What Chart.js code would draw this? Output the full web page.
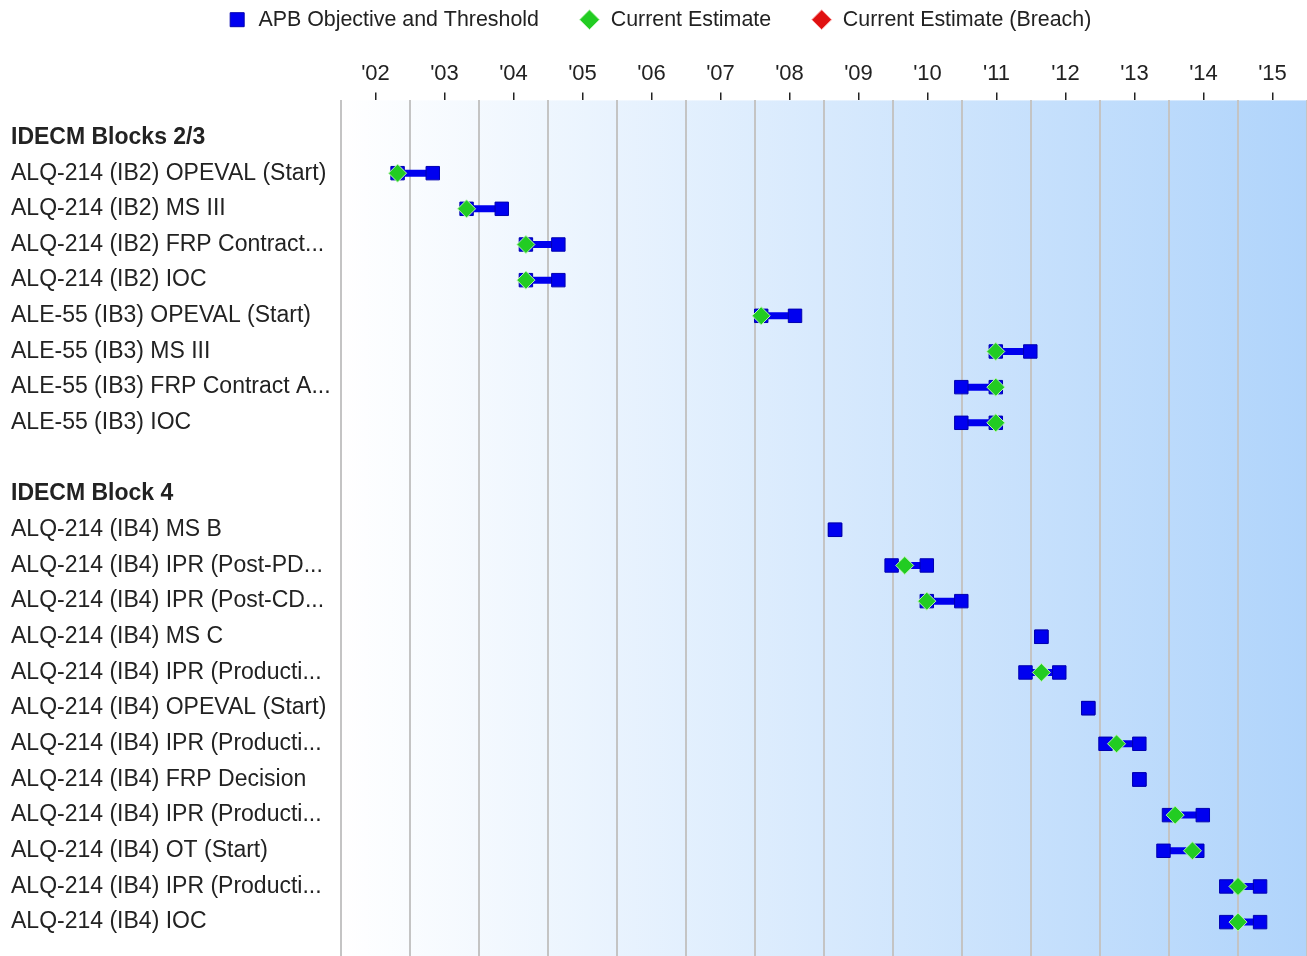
<!DOCTYPE html>
<html>
<head>
<meta charset="utf-8">
<script src="https://cdn.jsdelivr.net/npm/chart.js@4/dist/chart.umd.min.js"></script>
<style>
  html, body { margin: 0; padding: 0; background: #ffffff; }
  #wrap { position: relative; width: 1307px; height: 956px; }
</style>
</head>
<body>
<div id="wrap"><canvas id="c"></canvas></div>
<script>
// ---------- DATA ----------
const categories = [
  "IDECM Blocks 2/3",
  "ALQ-214 (IB2) OPEVAL (Start)",
  "ALQ-214 (IB2) MS III",
  "ALQ-214 (IB2) FRP Contract...",
  "ALQ-214 (IB2) IOC",
  "ALE-55 (IB3) OPEVAL (Start)",
  "ALE-55 (IB3) MS III",
  "ALE-55 (IB3) FRP Contract A...",
  "ALE-55 (IB3) IOC",
  "",
  "IDECM Block 4",
  "ALQ-214 (IB4) MS B",
  "ALQ-214 (IB4) IPR (Post-PD...",
  "ALQ-214 (IB4) IPR (Post-CD...",
  "ALQ-214 (IB4) MS C",
  "ALQ-214 (IB4) IPR (Producti...",
  "ALQ-214 (IB4) OPEVAL (Start)",
  "ALQ-214 (IB4) IPR (Producti...",
  "ALQ-214 (IB4) FRP Decision",
  "ALQ-214 (IB4) IPR (Producti...",
  "ALQ-214 (IB4) OT (Start)",
  "ALQ-214 (IB4) IPR (Producti...",
  "ALQ-214 (IB4) IOC"
];
const headerRows = [0, 10];

// APB objective dates (decimal years)
const objective = [null, 2002.82, 2003.82, 2004.68, 2004.68, 2008.09, 2011.49, 2010.99, 2010.99, null,
  null, 2009.16, 2009.98, 2010.49, 2012.15, 2011.92, 2012.83, 2013.08, 2013.57, 2014.00, 2013.92, 2014.83, 2014.83];
// APB threshold dates
const threshold = [null, 2003.33, 2004.33, 2005.15, 2005.15, 2008.58, 2011.99, 2011.49, 2011.49, null,
  null, 2009.16, 2010.49, 2010.99, 2012.15, 2012.41, 2012.83, 2013.57, 2013.57, 2014.49, 2014.41, 2015.32, 2015.32];
// Current estimate dates
const estimate = [null, 2002.82, 2003.82, 2004.68, 2004.68, 2008.09, 2011.49, 2011.49, 2011.49, null,
  null, null, 2010.17, 2010.49, null, 2012.15, null, 2013.24, null, 2014.09, 2014.34, 2015.00, 2015.00];
// Current estimate (breach) dates
const breach = [null, null, null, null, null, null, null, null, null, null,
  null, null, null, null, null, null, null, null, null, null, null, null, null];

const yearLabels = ["'02","'03","'04","'05","'06","'07","'08","'09","'10","'11","'12","'13","'14","'15"];
const firstYear = 2002;

// ---------- BUILD DATASETS ----------
const apbPoints = [];
objective.forEach((o, i) => {
  if (o === null) return;
  apbPoints.push({ x: o, y: i });
  apbPoints.push({ x: threshold[i], y: i });
  apbPoints.push({ x: null, y: null });
});
const estPoints = [];
estimate.forEach((e, i) => { if (e !== null) estPoints.push({ x: e, y: i }); });
const breachPoints = [];
breach.forEach((b, i) => { if (b !== null) breachPoints.push({ x: b, y: i }); });

const FONT = "'Liberation Sans', Arial, sans-serif";

const bgPlugin = {
  id: 'plotBg',
  beforeDraw(chart) {
    const a = chart.chartArea, ctx = chart.ctx;
    const g = ctx.createLinearGradient(a.left, 0, a.right, 0);
    g.addColorStop(0, '#ffffff');
    g.addColorStop(1, '#b0d4fb');
    ctx.save();
    ctx.fillStyle = g;
    ctx.fillRect(a.left, a.top, a.right - a.left, a.bottom - a.top);
    ctx.restore();
  }
};

function noPad(axis) {
  axis.paddingLeft = 0; axis.paddingRight = 0;
  axis.paddingTop = 0; axis.paddingBottom = 0;
}

new Chart(document.getElementById('c'), {
  type: 'scatter',
  data: {
    datasets: [
      {
        label: 'APB Objective and Threshold',
        data: apbPoints,
        order: 2,
        showLine: true,
        spanGaps: false,
        borderColor: '#0000ee',
        borderWidth: 7,
        backgroundColor: '#0000ee',
        pointStyle: 'rect',
        pointRadius: 9.5,
        pointBorderColor: '#0000b0',
        pointBorderWidth: 1,
        pointBackgroundColor: '#0000f0'
      },
      {
        label: 'Current Estimate',
        data: estPoints,
        order: 1,
        pointStyle: 'rectRot',
        pointRadius: 9,
        backgroundColor: '#22cc22',
        borderColor: '#b8f5b0',
        borderWidth: 1
      },
      {
        label: 'Current Estimate (Breach)',
        data: breachPoints,
        order: 0,
        pointStyle: 'rectRot',
        pointRadius: 9,
        backgroundColor: '#e01010',
        borderColor: '#ffb0b0',
        borderWidth: 1
      }
    ]
  },
  options: {
    responsive: true,
    maintainAspectRatio: false,
    animation: false,
    events: [],
    layout: { autoPadding: false, padding: { left: 11, top: -31, right: 0, bottom: 0 } },
    plugins: {
      tooltip: { enabled: false },
      legend: {
        position: 'top',
        align: 'center',
        labels: {
          usePointStyle: true,
          boxWidth: 21,
          boxHeight: 14,
          padding: 40,
          color: '#222222',
          font: { family: FONT, size: 21.4 },
          sort: (a, b) => a.datasetIndex - b.datasetIndex
        }
      }
    },
    scales: {
      x: {
        type: 'linear',
        position: 'top',
        min: firstYear,
        max: firstYear + yearLabels.length,
        afterBuildTicks: (axis) => {
          axis.ticks = yearLabels.concat(['']).map((_, i) => ({ value: firstYear + i }));
        },
        afterFit: (axis) => { axis.height = 0; noPad(axis); },
        ticks: { display: false },
        grid: { color: '#c4c4c4', lineWidth: 2, drawTicks: false },
        border: { display: false }
      },
      x2: {
        type: 'linear',
        position: 'top',
        weight: 1,
        min: firstYear,
        max: firstYear + yearLabels.length,
        afterBuildTicks: (axis) => {
          axis.ticks = yearLabels.map((_, i) => ({ value: firstYear + i + 0.5 }));
        },
        afterFit: (axis) => { axis.height = 60; noPad(axis); },
        ticks: {
          autoSkip: false,
          maxRotation: 0,
          padding: 5,
          color: '#222222',
          font: { family: FONT, size: 22 },
          callback: (v, i) => yearLabels[i]
        },
        grid: { drawOnChartArea: false, drawTicks: true, tickLength: 8, color: '#222222', lineWidth: 1.5 },
        border: { display: false }
      },
      y: {
        type: 'linear',
        reverse: true,
        min: -1.04,
        max: 22.95,
        afterBuildTicks: (axis) => {
          axis.ticks = categories.map((_, i) => ({ value: i }));
        },
        afterFit: (axis) => { axis.width = 330; noPad(axis); },
        ticks: {
          autoSkip: false,
          crossAlign: 'far',
          color: '#222222',
          font: (ctx) => ({
            family: FONT,
            size: 23,
            weight: headerRows.includes(ctx.index) ? 'bold' : 'normal'
          }),
          callback: (v) => categories[v]
        },
        grid: { display: false },
        border: { display: false }
      }
    }
  },
  plugins: [bgPlugin]
});
</script>
</body>
</html>
